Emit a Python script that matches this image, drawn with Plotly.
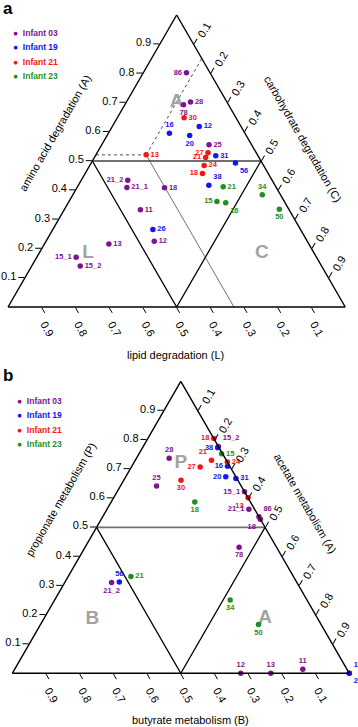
import plotly.graph_objects as go

# ---------------- DATA ----------------
tick_vals = [0.1, 0.2, 0.3, 0.4, 0.5, 0.6, 0.7, 0.8, 0.9]
tick_text = ["0.1", "0.2", "0.3", "0.4", "0.5", "0.6", "0.7", "0.8", "0.9"]

series_names = ["Infant 03", "Infant 19", "Infant 21", "Infant 23"]
series_colors = ["#80138f", "#1414f5", "#f51414", "#1f8f1f"]

# Panel a: amino acid (A, top), lipid (L, bottom-left), carbohydrate (C, bottom-right)
a_labels = [
    ["86", "28", "78", "25", "21_2", "21_1", "18", "11", "12", "13", "15_1", "15_2"],
    ["16", "12", "20", "31", "56", "38", "26"],
    ["30", "13", "27", "21", "24", "18"],
    ["21", "15", "16", "34", "50"],
]
a_A = [
    [0.802, 0.702, 0.693, 0.556, 0.434, 0.409, 0.408, 0.333, 0.225, 0.216, 0.170, 0.140],
    [0.595, 0.618, 0.587, 0.518, 0.493, 0.417, 0.265],
    [0.648, 0.521, 0.528, 0.512, 0.485, 0.457],
    [0.412, 0.361, 0.357, 0.384, 0.335],
]
a_L = [
    [0.070, 0.108, 0.133, 0.126, 0.428, 0.443, 0.332, 0.441, 0.454, 0.593, 0.713, 0.716],
    [0.224, 0.124, 0.168, 0.125, 0.079, 0.196, 0.438],
    [0.154, 0.330, 0.143, 0.158, 0.176, 0.195],
    [0.156, 0.200, 0.176, 0.054, 0.028],
]
a_C = [
    [0.128, 0.190, 0.174, 0.318, 0.138, 0.148, 0.260, 0.226, 0.321, 0.191, 0.117, 0.144],
    [0.181, 0.258, 0.245, 0.357, 0.428, 0.387, 0.297],
    [0.198, 0.149, 0.329, 0.330, 0.339, 0.348],
    [0.432, 0.439, 0.467, 0.562, 0.637],
]
a_pos = [
    ["middle left", "middle right", "bottom center", "middle right", "middle left", "middle right",
     "middle right", "middle right", "middle right", "middle right", "middle left", "middle right"],
    ["top center", "middle right", "bottom center", "middle right", "bottom right", "top right", "middle right"],
    ["middle right", "middle right", "middle left", "middle left", "middle right", "middle left"],
    ["middle right", "middle left", "bottom right", "top center", "bottom center"],
]

# Panel b: propionate (P, top), butyrate (B, bottom-left), acetate (Ac, bottom-right)
b_labels = [
    ["28", "25", "15_2", "15_1", "21_1", "86", "18", "78", "12", "13", "11", "21_2"],
    ["38", "16", "20", "31", "56", "12", "26"],
    ["18", "21", "27", "24", "30", "13"],
    ["15", "18", "21", "34", "50"],
]
b_P = [
    [0.737, 0.642, 0.777, 0.622, 0.562, 0.536, 0.528, 0.432, 0.000, 0.000, 0.014, 0.311],
    [0.773, 0.709, 0.673, 0.667, 0.313, 0.000, 0.000],
    [0.804, 0.730, 0.707, 0.724, 0.661, 0.601],
    [0.752, 0.587, 0.332, 0.251, 0.167],
]
b_B = [
    [0.166, 0.251, 0.000, 0.000, 0.017, 0.000, 0.000, 0.111, 0.322, 0.233, 0.131, 0.550],
    [0.004, 0.007, 0.030, 0.003, 0.526, 0.000, 0.000],
    [0.000, 0.044, 0.089, 0.000, 0.169, 0.000],
    [0.003, 0.165, 0.482, 0.228, 0.186],
]
b_Ac = [
    [0.097, 0.107, 0.223, 0.378, 0.421, 0.464, 0.472, 0.457, 0.678, 0.767, 0.855, 0.139],
    [0.223, 0.284, 0.297, 0.330, 0.161, 1.000, 1.000],
    [0.196, 0.226, 0.204, 0.276, 0.170, 0.399],
    [0.245, 0.248, 0.186, 0.521, 0.647],
]
b_pos = [
    ["top center", "top center", "top right", "middle left", "middle left", "top right",
     "bottom left", "bottom center", "top center", "top center", "top center", "bottom center"],
    ["middle left", "middle left", "middle left", "middle right", "top center", "top right", "bottom right"],
    ["middle left", "top left", "middle left", "middle right", "bottom center", "bottom left"],
    ["middle right", "bottom center", "middle right", "bottom center", "bottom center"],
]

region_a = {"text": ["A", "L", "C"], "a": [0.70, 0.185, 0.185], "b": [0.15, 0.67, 0.155], "c": [0.15, 0.145, 0.66]}
region_b = {"text": ["P", "B", "A"], "a": [0.72, 0.185, 0.19], "b": [0.14, 0.67, 0.155], "c": [0.14, 0.145, 0.655]}

# reading-guide point (Infant 21, sample 13 in panel a)
guide_A, guide_L, guide_C = 0.521, 0.330, 0.149

# ---------------- FIGURE ----------------
W, H = 358, 727
FONT = "Liberation Sans, Arial, sans-serif"
fig = go.Figure()


def px_x(p):
    return p / W


def px_y(p):
    return 1 - p / H


def frame_traces(sub):
    # A=0.5 horizontal line (grey) and the inner triangle edges
    fig.add_trace(go.Scatterternary(subplot=sub, a=[0.5, 0.5], b=[0.5, 0.0], c=[0.0, 0.5], mode="lines",
                                    line=dict(color="#707070", width=1.8), showlegend=False, hoverinfo="skip"))
    fig.add_trace(go.Scatterternary(subplot=sub, a=[0.5, 0.0, 0.5], b=[0.5, 0.5, 0.0], c=[0.0, 0.5, 0.5],
                                    mode="lines", line=dict(color="black", width=1.3), showlegend=False,
                                    hoverinfo="skip"))


def region_trace(sub, reg):
    fig.add_trace(go.Scatterternary(subplot=sub, a=reg["a"], b=reg["b"], c=reg["c"], text=reg["text"],
                                    mode="text", textfont=dict(size=19, color="#a3a3a3", family=FONT),
                                    texttemplate="<b>%{text}</b>", showlegend=False, hoverinfo="skip"))


def point_traces(sub, labels, av, bv, cv, pos):
    for i in range(4):
        col = series_colors[i]
        fig.add_trace(go.Scatterternary(subplot=sub, a=av[i], b=bv[i], c=cv[i], text=labels[i],
                                        mode="markers+text", textposition=pos[i],
                                        texttemplate="<b>%{text}</b>",
                                        textfont=dict(size=7.5, color=col, family=FONT),
                                        marker=dict(size=5.5, color=col), name=series_names[i],
                                        showlegend=False, cliponaxis=False))


# panel a
frame_traces("ternary")
fig.add_trace(go.Scatterternary(subplot="ternary", a=[guide_A, guide_A], b=[1 - guide_A, guide_L],
                                c=[0.0, guide_C], mode="lines", line=dict(color="black", width=0.7, dash="dot"),
                                showlegend=False, hoverinfo="skip"))
fig.add_trace(go.Scatterternary(subplot="ternary", a=[guide_A, 1 - guide_C], b=[guide_L, 0.0],
                                c=[guide_C, guide_C], mode="lines", line=dict(color="black", width=0.7, dash="dot"),
                                showlegend=False, hoverinfo="skip"))
fig.add_trace(go.Scatterternary(subplot="ternary", a=[guide_A, 0.0], b=[guide_L, guide_L],
                                c=[guide_C, 1 - guide_L], mode="lines", line=dict(color="#333333", width=0.7),
                                showlegend=False, hoverinfo="skip"))
region_trace("ternary", region_a)
point_traces("ternary", a_labels, a_A, a_L, a_C, a_pos)

# panel b
frame_traces("ternary2")
region_trace("ternary2", region_b)
point_traces("ternary2", b_labels, b_P, b_B, b_Ac, b_pos)


def tern_layout(x0, x1, y0, y1):
    ax = dict(tickvals=tick_vals, ticktext=tick_text, ticks="outside", ticklen=6, tickwidth=1.2,
              tickcolor="black", linecolor="black", linewidth=1.4, showgrid=False, min=0,
              title=dict(text=""), tickfont=dict(size=11, color="black", family=FONT))
    return dict(domain=dict(x=[px_x(x0), px_x(x1)], y=[px_y(y1), px_y(y0)]), sum=1, bgcolor="white",
                aaxis=dict(ax), baxis=dict(ax, tickangle=60), caxis=dict(ax, tickangle=-60))


annotations = []


def ann(text, x, y, size=11, angle=0, color="black", bold=False, xanchor="center"):
    annotations.append(dict(text=("<b>%s</b>" % text) if bold else text, x=px_x(x), y=px_y(y),
                            xref="paper", yref="paper", showarrow=False, textangle=angle,
                            xanchor=xanchor, yanchor="middle",
                            font=dict(size=size, color=color, family=FONT)))


# titles
ann("a", 1, 9, size=17, bold=True, xanchor="left")
ann("b", 1, 375, size=17, bold=True, xanchor="left")
ann("amino acid degradation (A)", 55, 133, angle=-60)
ann("carbohydrate degradation (C)", 303, 139, angle=60)
ann("lipid degradation (L)", 175, 355)
ann("propionate metabolism (P)", 61, 499, angle=-60)
ann("acetate metabolism (A)", 305, 503, angle=60)
ann("butyrate metabolism (B)", 190, 720)

# legends (coloured text keys)
for k in range(4):
    ann("●  <b>%s</b>" % series_names[k], 11, 33 + k * 14.3, size=8.5, color=series_colors[k], xanchor="left")
    ann("●  <b>%s</b>" % series_names[k], 15, 401 + k * 14.3, size=8.5, color=series_colors[k], xanchor="left")

fig.update_layout(
    width=W, height=H, margin=dict(l=0, r=0, t=0, b=0), paper_bgcolor="white", plot_bgcolor="white",
    showlegend=False, font=dict(family=FONT),
    ternary=tern_layout(7.3, 346, 15, 307),
    ternary2=tern_layout(12.3, 349.3, 380.7, 674),
    annotations=annotations,
)

fig.write_html("out.html", config={"displayModeBar": False},
               post_script="document.body.style.margin='0';document.body.style.overflow='hidden';")
